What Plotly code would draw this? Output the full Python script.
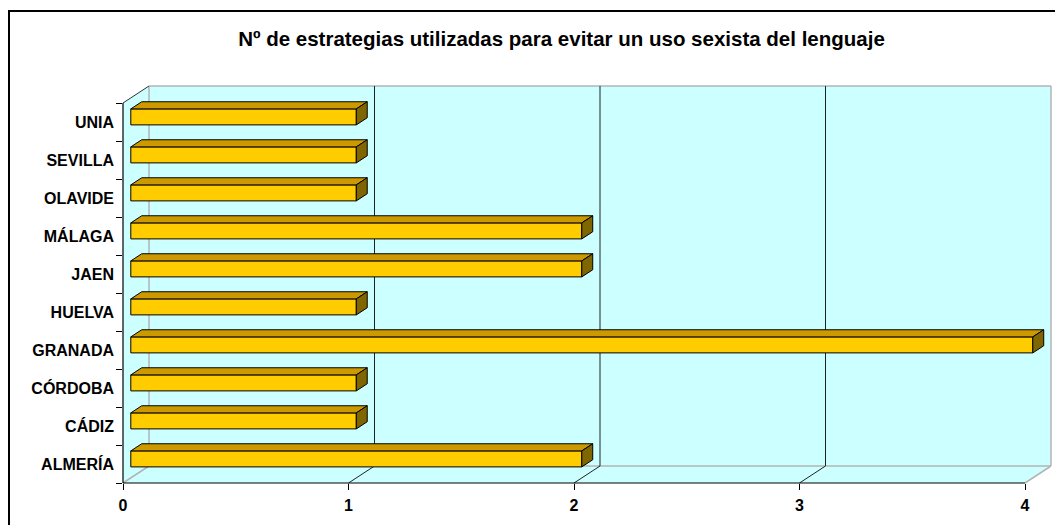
import plotly.graph_objects as go

# ---------------- data ----------------
categories = ["ALMERÍA", "CÁDIZ", "CÓRDOBA", "GRANADA", "HUELVA",
              "JAEN", "MÁLAGA", "OLAVIDE", "SEVILLA", "UNIA"]
values = [2, 1, 1, 4, 1, 2, 2, 1, 1, 1]
x_ticks = [0, 1, 2, 3, 4]
title_text = "Nº de estrategias utilizadas para evitar un uso sexista del lenguaje"

# ---------------- layout geometry ----------------
W, H = 1055, 525
ML, MR, MT, MB = 123, 4, 86, 42
PW = W - ML - MR
PH = H - MT - MB
UNIT_PX = 225.5          # pixels per value unit on the front plane
BAND_PX = 38.0           # pixels per category band
DEPTH_PX = (26.0, 17.0)  # 3-D depth offset of the back wall
XMAX = max(x_ticks)
n = len(categories)

xr = [0.0, PW / UNIT_PX]
yr = [-0.5, -0.5 + PH / BAND_PX]
DX = DEPTH_PX[0] / UNIT_PX
DY = DEPTH_PX[1] / BAND_PX
YTOP = n - 0.5
YBOT = -0.5

F0, F1 = 0.30, 0.72      # depth fraction of bar front / back
HALF = 8.0 / BAND_PX     # half height of bar front face


def xp(x):
    return (x - xr[0]) / (xr[1] - xr[0])


def yp(y):
    return (y - yr[0]) / (yr[1] - yr[0])


def pline(x0, y0, x1, y1, color, width=1.0, layer="below"):
    return dict(type="line", xref="paper", yref="paper",
                x0=xp(x0), y0=yp(y0), x1=xp(x1), y1=yp(y1),
                line=dict(color=color, width=width), layer=layer)


shapes = []
# wall + floor fill
pts = [(0, YBOT), (XMAX, YBOT), (XMAX + DX, YBOT + DY), (XMAX + DX, YTOP + DY),
       (DX, YTOP + DY), (0, YTOP)]
path = "M " + " L ".join(f"{xp(a):.6f},{yp(b):.6f}" for a, b in pts) + " Z"
shapes.append(dict(type="path", xref="paper", yref="paper", path=path,
                   fillcolor="#CCFFFF", line=dict(width=0), layer="below"))

GRAY = "#B4B4B4"
# back wall edges
shapes.append(pline(DX, YBOT + DY, XMAX + DX, YBOT + DY, GRAY, 1.5))
shapes.append(pline(DX, YTOP + DY, XMAX + DX, YTOP + DY, GRAY, 1.5))
shapes.append(pline(DX, YBOT + DY, DX, YTOP + DY, GRAY, 1.5))
shapes.append(pline(XMAX + DX, YBOT + DY, XMAX + DX, YTOP + DY, GRAY, 1.5))
# floor side diagonals
shapes.append(pline(0, YBOT, DX, YBOT + DY, GRAY, 1.5))
shapes.append(pline(XMAX, YBOT, XMAX + DX, YBOT + DY, GRAY, 1.5))
# gridlines (back wall + floor)
for t in x_ticks[1:-1]:
    shapes.append(pline(t + DX, YBOT + DY, t + DX, YTOP + DY, "#222222", 1))
    shapes.append(pline(t, YBOT, t + DX, YBOT + DY, "#222222", 1))
# left wall top edge
shapes.append(pline(0, YTOP, DX, YTOP + DY, "#333333", 1))
# axis lines
shapes.append(pline(0, YBOT, XMAX, YBOT, "black", 1.2))
shapes.append(pline(0, YBOT, 0, YTOP, "black", 1.2))
# outer chart border (pixels -> paper)
shapes.append(dict(type="rect", xref="paper", yref="paper",
                   x0=(9 - ML) / PW, x1=(1062 - ML) / PW,
                   y0=(H - MB - 535) / PH, y1=(H - MB - 11) / PH,
                   line=dict(color="black", width=2), layer="above"))

fig = go.Figure()

ypos = list(range(n))
# front faces
fig.add_trace(go.Bar(
    y=[i + DY * F0 for i in ypos], x=values, base=[DX * F0] * n,
    orientation="h", width=2 * HALF,
    marker=dict(color="#FFCC00", line=dict(color="black", width=1)),
    hoverinfo="skip", showlegend=False))

ddx = DX * (F1 - F0)
ddy = DY * (F1 - F0)
tx, ty, sx, sy = [], [], [], []
for i, v in zip(ypos, values):
    x0 = DX * F0
    yc = i + DY * F0
    yt, yb = yc + HALF, yc - HALF
    tx += [x0, x0 + ddx, x0 + v + ddx, x0 + v, x0, None]
    ty += [yt, yt + ddy, yt + ddy, yt, yt, None]
    sx += [x0 + v, x0 + v + ddx, x0 + v + ddx, x0 + v, x0 + v, None]
    sy += [yt, yt + ddy, yb + ddy, yb, yt, None]

fig.add_trace(go.Scatter(x=tx, y=ty, mode="lines", fill="toself",
                         fillcolor="#CC9900", line=dict(color="black", width=1),
                         hoverinfo="skip", showlegend=False))
fig.add_trace(go.Scatter(x=sx, y=sy, mode="lines", fill="toself",
                         fillcolor="#806600", line=dict(color="black", width=1),
                         hoverinfo="skip", showlegend=False))

FONT = "Arial, 'Liberation Sans', sans-serif"
fig.update_layout(
    width=W, height=H,
    margin=dict(l=ML, r=MR, t=MT, b=MB),
    paper_bgcolor="white", plot_bgcolor="white",
    shapes=shapes, hovermode=False,
    title=dict(text=title_text, xref="container", yref="container",
               x=561.5 / W, y=(H - 39) / H, xanchor="center", yanchor="middle",
               font=dict(family=FONT, size=20.5, color="black", weight="bold")),
    xaxis=dict(range=xr, tickvals=x_ticks, ticktext=[str(t) for t in x_ticks],
               ticks="outside", ticklen=6, tickcolor="black", tickwidth=1,
               showgrid=False, zeroline=False, showline=False,
               ticklabelstandoff=2,
               tickfont=dict(family=FONT, size=16, color="black", weight="bold")),
    yaxis=dict(range=yr, tickvals=ypos, ticktext=categories,
               ticks="", showgrid=False, zeroline=False, showline=False,
               ticklabelstandoff=8,
               minor=dict(tickvals=[i - 0.5 for i in range(n + 1)], ticks="outside",
                          ticklen=6, tickcolor="black", tickwidth=1),
               tickfont=dict(family=FONT, size=16, color="black", weight="bold")),
)

fig.write_html("out.html")
